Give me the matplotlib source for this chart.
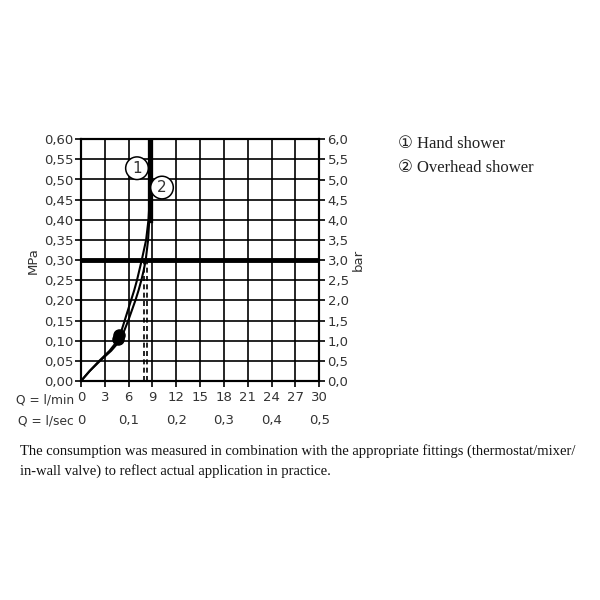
"""Flow-rate diagram: pressure vs. consumption for hand and overhead shower."""
import matplotlib.pyplot as plt

# --- data ---
q_ticks = [0, 3, 6, 9, 12, 15, 18, 21, 24, 27, 30]          # l/min
q_sec_labels = ["0", "0,1", "0,2", "0,3", "0,4", "0,5"]
q_sec_pos = [0, 6, 12, 18, 24, 30]                          # l/min positions
p_ticks = [0.00, 0.05, 0.10, 0.15, 0.20, 0.25, 0.30, 0.35, 0.40, 0.45, 0.50, 0.55, 0.60]

# hand shower (1)
hand_q = [0, 1.1, 2.3, 3.6, 4.6, 5.1, 5.5, 5.9, 6.3, 6.7, 7.05, 7.35, 7.65, 8.2, 8.5, 8.65, 8.7, 8.7]
hand_p = [0, 0.025, 0.05, 0.075, 0.10, 0.125, 0.15, 0.175, 0.20, 0.225, 0.25, 0.275, 0.30,
          0.35, 0.40, 0.45, 0.50, 0.60]
# overhead shower (2)
over_q = [0, 1.1, 2.4, 3.8, 4.9, 5.45, 5.95, 6.4, 6.85, 7.25, 7.6, 7.9, 8.15, 8.45, 8.6, 8.7, 8.7]
over_p = [0, 0.025, 0.05, 0.075, 0.10, 0.125, 0.15, 0.175, 0.20, 0.225, 0.25, 0.275, 0.30,
          0.35, 0.40, 0.45, 0.60]

dash_q = [7.9, 8.3]         # flow at 0.3 MPa
ref_p = 0.30
limit_q = 8.7               # flow limiter

legend_items = ["\u2460 Hand shower", "\u2461 Overhead shower"]
caption = ("The consumption was measured in combination with the appropriate fittings (thermostat/mixer/\n"
           "in-wall valve) to reflect actual application in practice.")

SANS = "DejaVu Sans"
SERIF = ["Liberation Serif", "DejaVu Sans"]
TXT = "#333333"


def comma(v, fmt):
    return (fmt % v).replace(".", ",")


fig = plt.figure(figsize=(6, 6), dpi=100)
ax = fig.add_axes([0.135, 0.365, 0.397, 0.403])
ax.set_xlim(0, 30)
ax.set_ylim(0, 0.6)

for q in q_ticks:
    ax.axvline(q, color="black", lw=1.2, zorder=1)
for p in p_ticks:
    ax.axhline(p, color="black", lw=1.2, zorder=1)
ax.axhline(ref_p, color="black", lw=3.5, zorder=2)

for q in dash_q:
    ax.plot([q, q], [0, ref_p], color="black", lw=1.2, ls=(0, (3, 2)), zorder=2)

ax.plot(hand_q, hand_p, color="black", lw=1.5, zorder=3, solid_joinstyle="round")
ax.plot(over_q, over_p, color="black", lw=1.5, zorder=3, solid_joinstyle="round")
ax.plot([limit_q, limit_q], [0.40, 0.60], color="black", lw=3.8, zorder=3)
ax.plot([4.6, 4.8], [0.105, 0.115], "o", color="black", ms=8, zorder=4)

# circled curve markers
ax.text(7.05, 0.528, "1", ha="center", va="center", fontsize=11, family=SANS, color=TXT,
        zorder=5, bbox=dict(boxstyle="circle,pad=0.25", fc="white", ec="black", lw=1.1))
ax.text(10.2, 0.48, "2", ha="center", va="center", fontsize=11, family=SANS, color=TXT,
        zorder=5, bbox=dict(boxstyle="circle,pad=0.25", fc="white", ec="black", lw=1.1))

for s in ax.spines.values():
    s.set_linewidth(1.5)

ax.set_yticks(p_ticks)
ax.set_yticklabels([comma(p, "%.2f") for p in p_ticks], family=SANS, fontsize=9.5, color=TXT)
ax.set_xticks(q_ticks)
ax.set_xticklabels([str(q) for q in q_ticks], family=SANS, fontsize=9.5, color=TXT)
ax.tick_params(axis="y", direction="out", length=4, width=1.2, pad=1.5)
ax.tick_params(axis="x", direction="out", length=4, width=1.2, pad=3)
ax.set_ylabel("MPa", family=SANS, fontsize=9.5, color=TXT, labelpad=3)

ax2 = ax.twinx()
ax2.set_ylim(0, 6)
bar_ticks = [p * 10 for p in p_ticks]
ax2.set_yticks(bar_ticks)
ax2.set_yticklabels([comma(b, "%.1f") for b in bar_ticks], family=SANS, fontsize=9.5, color=TXT)
ax2.tick_params(axis="y", direction="out", length=4, width=1.2, pad=2)
ax2.set_ylabel("bar", family=SANS, fontsize=9.5, color=TXT, rotation=90, labelpad=2)
for s in ax2.spines.values():
    s.set_linewidth(1.5)

# x axis row labels
trans = ax.get_xaxis_transform()
ax.text(-0.9, -0.08, "Q = l/min", transform=trans, ha="right", va="center",
        family=SANS, fontsize=8.8, color=TXT)
ax.text(-0.9, -0.165, "Q = l/sec", transform=trans, ha="right", va="center",
        family=SANS, fontsize=8.8, color=TXT)
for pos, lab in zip(q_sec_pos, q_sec_labels):
    ax.text(pos, -0.165, lab, transform=trans, ha="center", va="center",
            family=SANS, fontsize=9.5, color=TXT)

# legend
fig.text(0.663, 0.760, legend_items[0], family=SERIF, fontsize=12, va="center", color="#222222")
fig.text(0.663, 0.720, legend_items[1], family=SERIF, fontsize=12, va="center", color="#222222")

fig.text(0.033, 0.232, caption, family=SERIF, fontsize=10.5, va="center", linespacing=1.55,
         color="#111111")

fig.savefig("out.png", dpi=100)
